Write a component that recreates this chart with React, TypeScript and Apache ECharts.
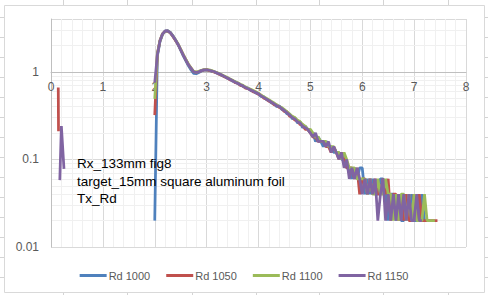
import React, { useEffect, useRef } from "react";
import * as echarts from "echarts";

const seriesNames = ["Rd 1000", "Rd 1050", "Rd 1100", "Rd 1150"];
const colors = ["#4F81BD", "#C0504D", "#9BBB59", "#8064A2"];

const xs = [
  2.00, 2.05, 2.10, 2.15, 2.20, 2.25, 2.30, 2.35, 2.40, 2.45,
  2.50, 2.55, 2.60, 2.65, 2.70, 2.75, 2.80, 2.85, 2.90, 2.95,
  3.00, 3.05, 3.10, 3.15, 3.20, 3.25, 3.30, 3.35, 3.40, 3.45,
  3.50, 3.55, 3.60, 3.65, 3.70, 3.75, 3.80, 3.85, 3.90, 3.95,
  4.00, 4.05, 4.10, 4.15, 4.20, 4.25, 4.30, 4.35, 4.40, 4.45,
  4.50, 4.55, 4.60, 4.65, 4.70, 4.75, 4.80, 4.85, 4.90, 4.95,
  5.00, 5.05, 5.10, 5.15, 5.20, 5.25, 5.30, 5.35, 5.40, 5.45,
  5.50, 5.55, 5.60, 5.65, 5.70, 5.75, 5.80, 5.85, 5.90, 5.95,
  6.00, 6.05, 6.10, 6.15, 6.20, 6.25, 6.30, 6.35, 6.40, 6.45,
  6.50, 6.55, 6.60, 6.65, 6.70, 6.75, 6.80, 6.85, 6.90, 6.95,
  7.00, 7.05, 7.10, 7.15, 7.20, 7.25, 7.30, 7.35, 7.40, 7.45, 7.50,
];

const rd1000 = [
  0.02, 1.5, 2.2, 2.68, 2.92, 2.95, 2.82, 2.57, 2.3, 2.04,
  1.76, 1.52, 1.33, 1.17, 1.05, 0.96, 0.95, 0.98, 1.02, 1.04,
  1.05, 1.04, 1.01, 1.0, 0.96, 0.94, 0.9, 0.88, 0.84, 0.82,
  0.78, 0.77, 0.73, 0.71, 0.68, 0.66, 0.65, 0.61, 0.6, 0.57,
  0.56, 0.52, 0.52, 0.48, 0.47, 0.44, 0.43, 0.4, 0.41, 0.37,
  0.36, 0.33, 0.33, 0.29, 0.3, 0.26, 0.27, 0.23, 0.24, 0.22,
  0.2, 0.2, 0.16, 0.18, 0.16, 0.14, 0.16, 0.14, 0.14, 0.12,
  0.12, 0.12, 0.1, 0.1, 0.08, 0.08, 0.06, 0.08, 0.06, 0.08,
  0.08, 0.04, 0.06, 0.04, 0.06, 0.04, 0.04, 0.06, 0.06, 0.04,
  0.02, 0.04, 0.04, 0.02, 0.04, 0.02, 0.02, 0.04, 0.02, 0.04,
  0.02, 0.02, 0.02, 0.04, 0.02, null, null, null, null, null, null,
];

const rd1050 = [
  0.32, 1.6, 2.28, 2.72, 2.9, 2.9, 2.78, 2.53, 2.28, 2.05,
  1.8, 1.56, 1.37, 1.21, 1.1, 1.0, 0.99, 1.0, 1.03, 1.05,
  1.06, 1.03, 1.02, 0.99, 0.97, 0.93, 0.91, 0.87, 0.85, 0.81,
  0.8, 0.75, 0.74, 0.7, 0.69, 0.65, 0.64, 0.62, 0.59, 0.58,
  0.55, 0.54, 0.5, 0.49, 0.46, 0.45, 0.42, 0.42, 0.39, 0.38,
  0.35, 0.35, 0.31, 0.31, 0.28, 0.28, 0.25, 0.25, 0.22, 0.22,
  0.2, 0.18, 0.18, 0.16, 0.16, 0.16, 0.14, 0.14, 0.12, 0.14,
  0.12, 0.1, 0.12, 0.1, 0.08, 0.08, 0.08, 0.06, 0.08, 0.04,
  0.06, 0.06, 0.04, 0.06, 0.04, 0.06, 0.04, 0.04, 0.06, 0.04,
  0.06, 0.02, 0.04, 0.04, 0.02, 0.04, 0.02, 0.04, 0.02, 0.02,
  0.04, 0.02, 0.04, 0.02, 0.02, 0.02, 0.02, 0.02, 0.02, 0.02, null,
];

const rd1100 = [
  0.49, 1.58, 2.24, 2.7, 2.88, 2.92, 2.8, 2.56, 2.32, 2.07,
  1.8, 1.57, 1.38, 1.22, 1.1, 1.01, 0.99, 1.01, 1.04, 1.06,
  1.05, 1.05, 1.03, 1.0, 0.98, 0.95, 0.92, 0.89, 0.86, 0.83,
  0.8, 0.77, 0.75, 0.72, 0.7, 0.67, 0.65, 0.63, 0.61, 0.59,
  0.57, 0.54, 0.52, 0.5, 0.48, 0.46, 0.44, 0.42, 0.4, 0.39,
  0.37, 0.35, 0.33, 0.31, 0.3, 0.28, 0.27, 0.25, 0.24, 0.22,
  0.22, 0.2, 0.18, 0.18, 0.16, 0.16, 0.16, 0.14, 0.14, 0.14,
  0.12, 0.12, 0.1, 0.12, 0.1, 0.08, 0.08, 0.08, 0.06, 0.06,
  0.06, 0.06, 0.04, 0.06, 0.04, 0.04, 0.06, 0.04, 0.04, 0.06,
  0.04, 0.04, 0.02, 0.04, 0.02, 0.04, 0.04, 0.02, 0.04, 0.02,
  0.04, 0.02, 0.02, 0.02, 0.04, 0.02, 0.02, 0.02, 0.02, null, null,
];

const rd1150 = [
  0.75, 1.55, 2.25, 2.7, 2.9, 2.92, 2.8, 2.55, 2.3, 2.05,
  1.78, 1.55, 1.36, 1.2, 1.09, 1.0, 0.98, 1.0, 1.03, 1.05,
  1.05, 1.04, 1.02, 1.0, 0.97, 0.94, 0.91, 0.88, 0.85, 0.82,
  0.79, 0.76, 0.74, 0.71, 0.69, 0.66, 0.64, 0.62, 0.6, 0.58,
  0.56, 0.53, 0.51, 0.49, 0.47, 0.45, 0.43, 0.41, 0.4, 0.38,
  0.36, 0.34, 0.32, 0.3, 0.29, 0.27, 0.26, 0.24, 0.23, 0.22,
  0.2, 0.18, 0.2, 0.16, 0.16, 0.16, 0.14, 0.16, 0.12, 0.14,
  0.12, 0.1, 0.12, 0.08, 0.1, 0.06, 0.08, 0.06, 0.08, 0.06,
  0.04, 0.06, 0.04, 0.06, 0.04, 0.06, 0.02, 0.04, 0.06, 0.02,
  0.04, 0.02, 0.04, 0.02, 0.04, 0.02, 0.04, 0.02, 0.04, 0.02,
  0.02, 0.04, 0.02, 0.02, null, null, null, null, null, null, null,
];

// early isolated points near x = 0.15
const preX1050 = [0.14, 0.145];
const preY1050 = [0.66, 0.21];
const preX1150 = [0.17, 0.2, 0.25];
const preY1150 = [0.058, 0.24, 0.078];

const xTicks = [0, 1, 2, 3, 4, 5, 6, 7, 8];
const yMajorTicks = [0.01, 0.1, 1];
const yMinorLines = [
  0.02, 0.03, 0.04, 0.05, 0.06, 0.07, 0.08, 0.09,
  0.2, 0.3, 0.4, 0.5, 0.6, 0.7, 0.8, 0.9, 2, 3,
];

const noteLines = [
  "Rx_133mm fig8",
  "target_15mm square aluminum foil",
  "Tx_Rd",
];

function build(preX: number[], preY: number[], ys: (number | null)[]) {
  const d: any[] = [];
  preX.forEach((x, i) => d.push([x, preY[i]]));
  if (preX.length) d.push([1, "-"]);
  ys.forEach((y, i) => {
    if (y !== null) d.push([xs[i], y]);
  });
  return d;
}

export default function App() {
  const ref = useRef<HTMLDivElement>(null);
  useEffect(() => {
    if (!ref.current) return;
    const chart = echarts.init(ref.current, null, { renderer: "svg" });
    const font = "Liberation Sans";
    const allY = [rd1000, rd1050, rd1100, rd1150];
    const pres: [number[], number[]][] = [
      [[], []],
      [preX1050, preY1050],
      [[], []],
      [preX1150, preY1150],
    ];

    const cellLines: any[] = [];
    const lineStyle = { stroke: "#D4D4D4", lineWidth: 1 };
    [63.5, 127.5, 192.5, 256.5, 319.5, 383.5, 448.5].forEach((x) => {
      cellLines.push({ type: "line", shape: { x1: x, y1: 0, x2: x, y2: 5 }, style: lineStyle, silent: true });
      cellLines.push({ type: "line", shape: { x1: x, y1: 293, x2: x, y2: 295 }, style: lineStyle, silent: true });
    });
    [17.5, 37.5, 57.5, 77.5, 97.5, 117.5, 137.5, 157.5, 177.5, 197.5, 217.5, 237.5, 257.5, 277.5].forEach((y) => {
      cellLines.push({ type: "line", shape: { x1: 0, y1: y, x2: 4, y2: y }, style: lineStyle, silent: true });
      cellLines.push({ type: "line", shape: { x1: 485, y1: y, x2: 488, y2: y }, style: lineStyle, silent: true });
    });

    const option: any = {
      animation: false,
      backgroundColor: "#FFFFFF",
      grid: { left: 51, right: 22, top: 19, bottom: 48, containLabel: false },
      legend: {
        data: seriesNames.map((n) => ({ name: n, icon: "rect" })),
        left: "center",
        top: 265,
        itemWidth: 27,
        itemHeight: 3,
        itemGap: 16,
        textStyle: { fontFamily: font, fontSize: 11, color: "#595959", padding: [0, 0, 0, -3] },
        selectedMode: false,
      },
      xAxis: {
        type: "value",
        min: xTicks[0],
        max: xTicks[xTicks.length - 1],
        interval: 1,
        position: "bottom",
        offset: -175.2,
        axisLine: { show: true, lineStyle: { color: "#BFBFBF", width: 1 } },
        axisTick: { show: false },
        axisLabel: { fontFamily: font, fontSize: 12, color: "#595959", margin: 9 },
        splitLine: { show: true, lineStyle: { color: "#D9D9D9", width: 1 } },
        minorTick: { show: false, splitNumber: 5 },
        minorSplitLine: { show: true, lineStyle: { color: "#F0F0F0", width: 1 } },
      },
      yAxis: {
        type: "log",
        logBase: 10,
        min: yMajorTicks[0],
        max: 4,
        axisLine: { show: true, lineStyle: { color: "#BFBFBF", width: 1 } },
        axisTick: { show: false },
        axisLabel: {
          fontFamily: font,
          fontSize: 12,
          color: "#595959",
          margin: 12,
          showMaxLabel: false,
          formatter: (v: number) => {
            for (const t of yMajorTicks) {
              if (Math.abs(v - t) / t < 1e-6) return String(t);
            }
            return "";
          },
        },
        splitLine: { show: true, lineStyle: { color: "#D9D9D9", width: 1 } },
      },
      graphic: [
        ...cellLines,
        {
          type: "rect",
          shape: { x: 4.5, y: 5.5, width: 480, height: 287 },
          style: { fill: "none", stroke: "#D9D9D9", lineWidth: 1 },
          silent: true,
          z: -1,
        },
        {
          type: "text",
          left: 77,
          top: 155,
          style: {
            text: noteLines.join("\n"),
            fontFamily: font,
            fontSize: 13.5,
            lineHeight: 17.5,
            fill: "#000000",
          },
          z: 100,
        },
      ],
      series: [
        {
          name: "minor",
          type: "line",
          data: [],
          silent: true,
          z: 0,
          markLine: {
            silent: true,
            z: 0,
            zlevel: 0,
            symbol: "none",
            label: { show: false },
            lineStyle: { color: "#F0F0F0", width: 1, type: "solid" },
            data: yMinorLines.map((v) => ({ yAxis: v })),
          },
        },
        ...seriesNames.map((name, i) => ({
          name,
          type: "line",
          data: build(pres[i][0], pres[i][1], allY[i]),
          showSymbol: false,
          symbol: "none",
          connectNulls: false,
          lineStyle: { color: colors[i], width: 2.75 },
          itemStyle: { color: colors[i] },
          z: 3 + i,
        })),
      ],
    };
    chart.setOption(option);
    return () => chart.dispose();
  }, []);
  return (
    <div
      ref={ref}
      style={{ position: "fixed", left: 0, top: 0, width: 488, height: 295 }}
    />
  );
}
